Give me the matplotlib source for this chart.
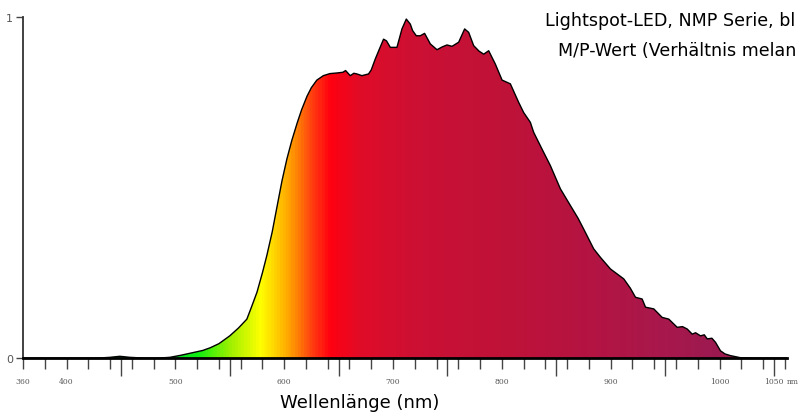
import numpy as np
import matplotlib.pyplot as plt
from matplotlib.colors import LinearSegmentedColormap

# spectrum
wl = [360, 430, 440, 449, 458, 470, 486, 495, 505, 515, 525, 532, 540, 550, 558, 565.7,
      570, 575, 580, 584, 589, 593, 598, 602.5, 607, 612, 616, 621, 625, 630, 636, 642,
      649, 654, 656.4, 660.7, 664, 666.8, 671.4, 677.5, 680, 683.7, 688, 691.3, 694, 697.5,
      703.6, 708.2, 712.2, 715.9, 718, 721.4, 725, 729, 734.3, 740.4, 745, 749.6, 754.2,
      760.3, 765.8, 769.5, 774.1, 779, 783.3, 787.9, 794, 800.2, 807.8, 815.4, 820, 826.2,
      829.2, 837, 844.6, 853.8, 863, 870, 875.2, 884.4, 890.6, 899.8, 912, 918, 922.8,
      928.9, 932, 939.6, 947.3, 953.4, 961.1, 966, 970.3, 974.9, 978, 982.5, 986, 988.7,
      993, 996.3, 1000.9, 1005, 1010, 1019, 1030, 1062]
rel = [0, 0, 0.002, 0.005, 0.002, 0, 0, 0.002, 0.008, 0.015, 0.022, 0.03, 0.042, 0.065,
       0.088, 0.114, 0.15, 0.193, 0.25, 0.30, 0.37, 0.437, 0.52, 0.584, 0.638, 0.69, 0.728,
       0.768, 0.793, 0.815, 0.828, 0.834, 0.836, 0.838, 0.843, 0.828, 0.835, 0.833, 0.828,
       0.833, 0.845, 0.877, 0.91, 0.935, 0.93, 0.911, 0.911, 0.965, 0.994, 0.979, 0.96,
       0.945, 0.945, 0.952, 0.921, 0.904, 0.912, 0.918, 0.914, 0.926, 0.965, 0.955, 0.916,
       0.9, 0.891, 0.901, 0.862, 0.815, 0.804, 0.750, 0.72, 0.691, 0.662, 0.612, 0.564,
       0.496, 0.447, 0.41, 0.378, 0.32, 0.295, 0.261, 0.232, 0.205, 0.178, 0.173, 0.149,
       0.144, 0.119, 0.114, 0.09, 0.092, 0.085, 0.070, 0.074, 0.065, 0.068, 0.056, 0.058,
       0.046, 0.021, 0.012, 0.007, 0.001, 0, 0]

# colour of the fill along the wavelength axis
col_nm = [360, 480, 520, 550, 578, 603, 625, 642, 670, 720, 800, 880, 950, 1000, 1062]
col_hex = ['#00c040', '#00d040', '#10f010', '#a0f000', '#ffff00', '#ffa800', '#ff4010',
           '#ff0010', '#e00c28', '#cc1034', '#c01238', '#b41442', '#a8184c', '#9c1a50',
           '#9c1a50']

tick_lab = [360, 400, 500, 600, 700, 800, 900, 1000, 1050]

xmin, xmax = 360, 1062

fig = plt.figure(figsize=(8.01, 4.14), dpi=100)
ax = fig.add_axes([23/801, 55/414, (787-23)/801, (359-18)/414])

pos = [(c - xmin)/(xmax - xmin) for c in col_nm]
cmap = LinearSegmentedColormap.from_list('spec', list(zip(pos, col_hex)))
grad = np.linspace(xmin, xmax, 800).reshape(1, -1)
poly = ax.fill(wl, rel, facecolor='none', edgecolor='none')[0]
im = ax.imshow(grad, extent=[xmin, xmax, 0, 1], aspect='auto', cmap=cmap,
               vmin=xmin, vmax=xmax, origin='lower', zorder=1)
im.set_clip_path(poly)
ax.plot(wl, rel, color='k', lw=1, zorder=3)

ax.set_xlim(xmin, xmax)
ax.set_ylim(0, 1)
for s in ['top', 'right']:
    ax.spines[s].set_visible(False)
ax.spines['bottom'].set_linewidth(2)
ax.spines['bottom'].set_color('k')
ax.spines['left'].set_linewidth(1.3)
ax.spines['left'].set_color('#333333')
ax.spines['bottom'].set_zorder(4)

# short ticks every 20 nm, long ones at the x50 marks
ax.set_xticks(np.arange(360, 1061, 20))
ax.set_xticks(np.arange(450, 1051, 50), minor=True)
ax.tick_params(axis='x', which='major', direction='out', length=8, width=1,
               color='#444444', labelbottom=False)
ax.tick_params(axis='x', which='minor', direction='out', length=13, width=1,
               color='#444444')
ax.set_yticks([0, 1])
ax.tick_params(axis='y', direction='out', length=5, width=1, color='#444444',
               labelsize=8, labelcolor='#555555', pad=2)

for t in tick_lab:
    ax.text(t, -0.066, str(t), ha='center', va='center', fontsize=5.5,
            family='DejaVu Serif', color='#555555')
ax.text(1067, -0.066, 'nm', ha='center', va='center', fontsize=5.5,
        family='DejaVu Serif', color='#555555', clip_on=False)

fig.text(360/801, 1 - 403/414, 'Wellenlänge (nm)', ha='center', va='center',
         fontsize=13)
fig.text(545/801, 1 - 21/414, 'Lightspot-LED, NMP Serie, bl', ha='left', va='center',
         fontsize=12.6)
fig.text(558/801, 1 - 51/414, 'M/P-Wert (Verhältnis melan', ha='left', va='center',
         fontsize=12.6)

fig.savefig('out.png')
